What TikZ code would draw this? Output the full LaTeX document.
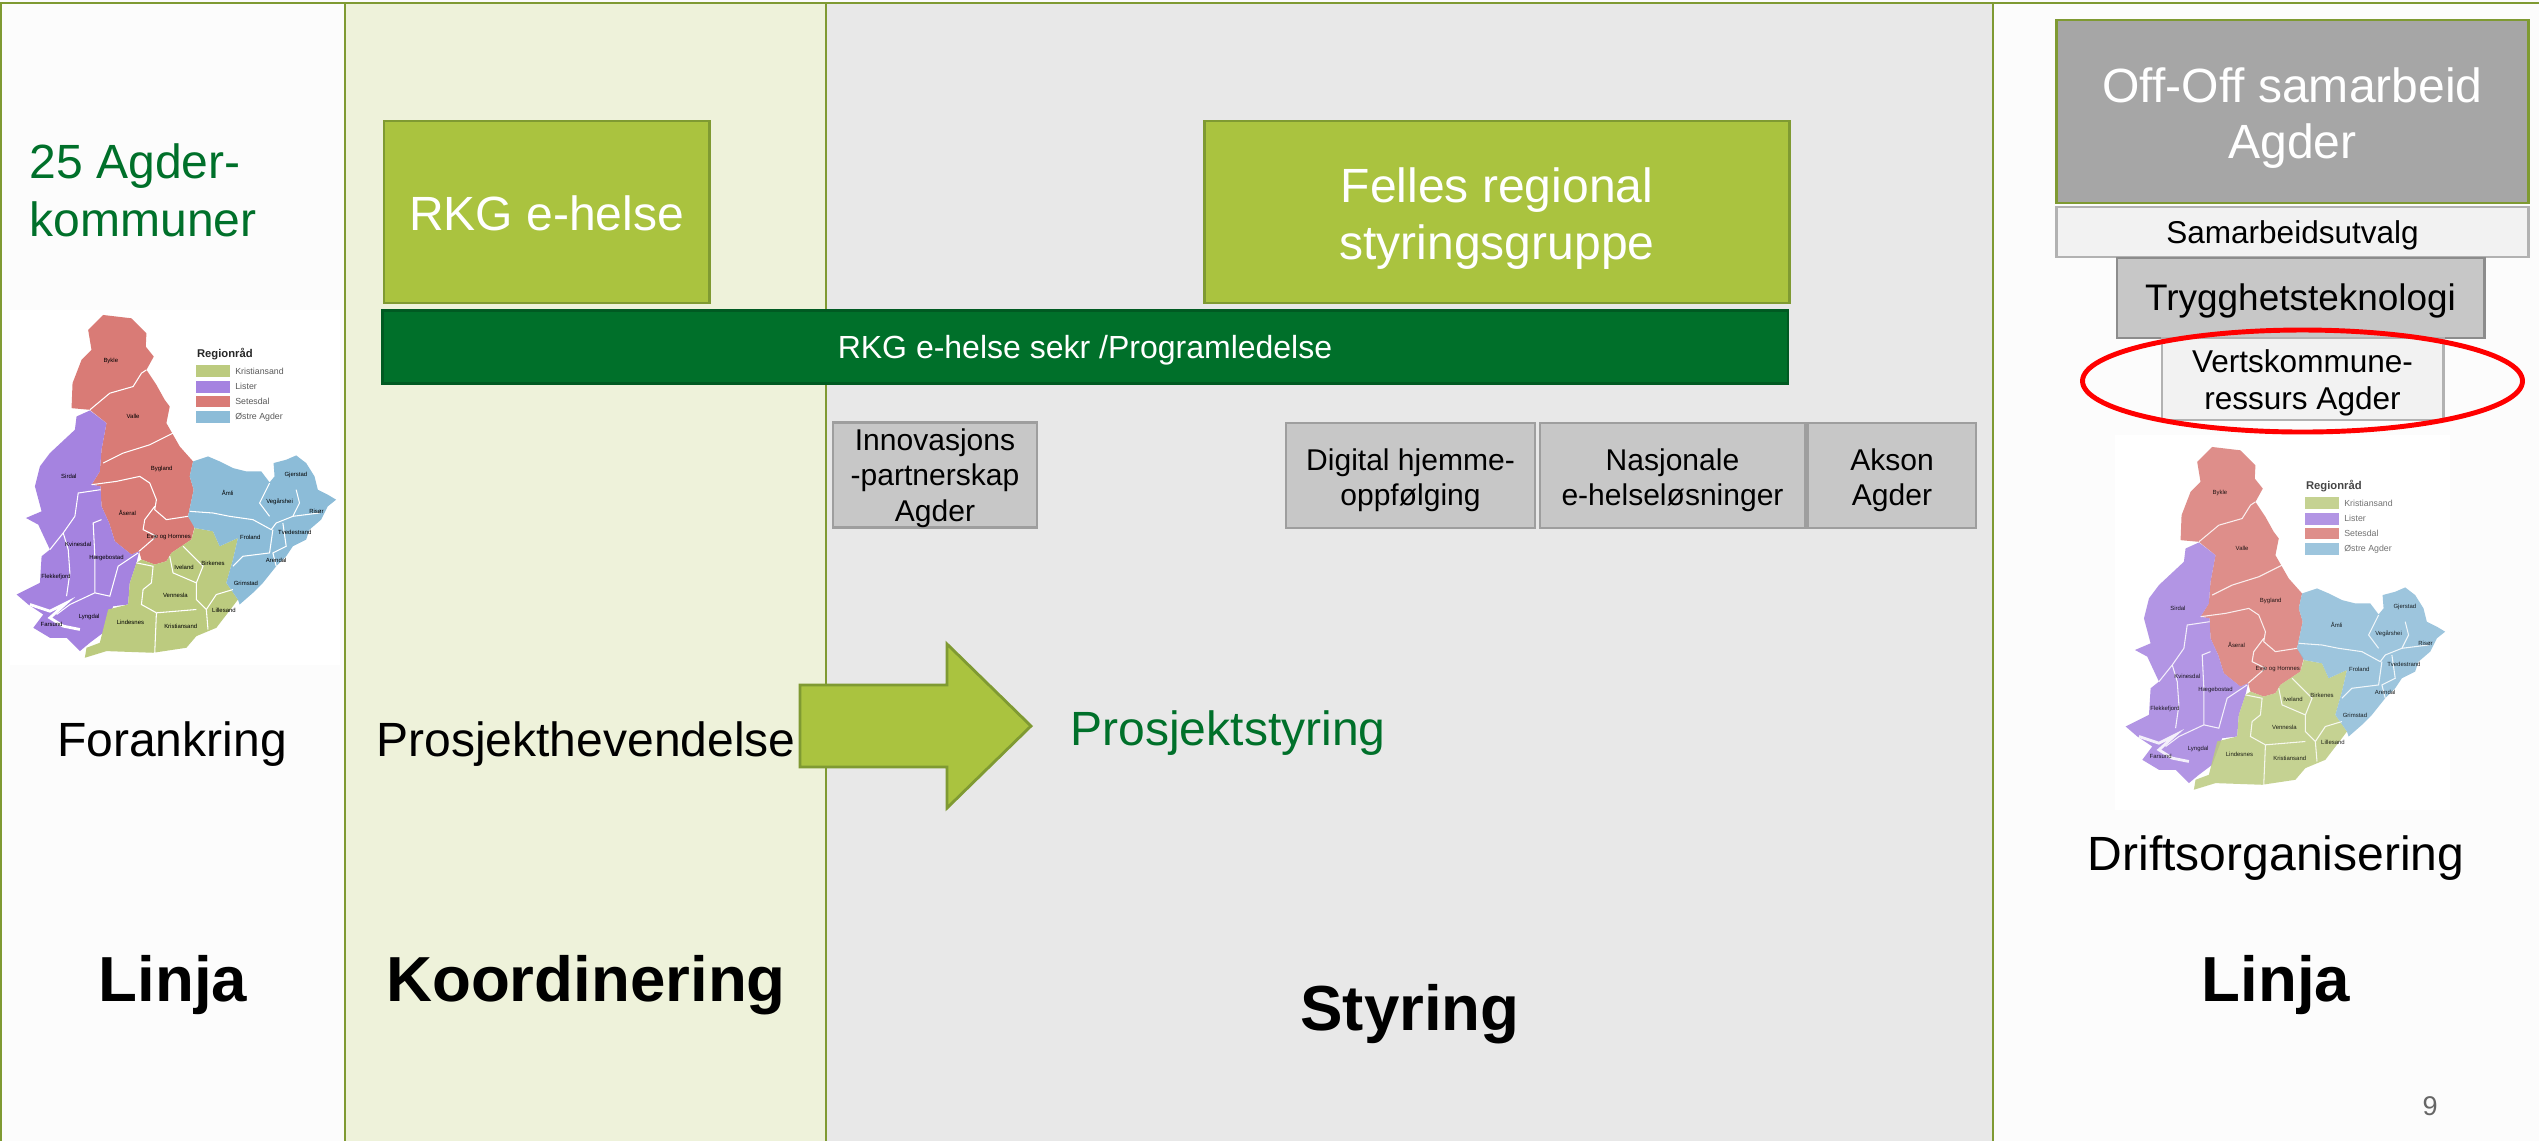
\documentclass[tikz,border=0pt]{standalone}
\usepackage{fontspec}
\setmainfont{Liberation Sans}
\usepackage{tikz}
\usetikzlibrary{calc,positioning}
\definecolor{olive}{HTML}{7F9A32}
\definecolor{leaf}{HTML}{AAC33F}
\definecolor{forest}{HTML}{00702A}
\definecolor{paleleaf}{HTML}{EEF2DA}
\definecolor{mapgreen}{HTML}{BCCB7F}
\definecolor{mappurple}{HTML}{A583E0}
\definecolor{mapred}{HTML}{D97B76}
\definecolor{mapblue}{HTML}{8CBCD8}
\newcommand{\fsize}[2]{\fontsize{#1}{#2}\selectfont}
\newcommand{\lifted}[1]{\rule{0pt}{#1}}
\newcommand{\agdermap}[3]{%
  \begin{scope}[shift={(#1,#2)},x=0.00333cm,y=-0.00333cm,opacity=#3]
    \fill[mapred] (310,75) -- (395,85) -- (440,130) -- (438,170) -- (462,200) -- (440,240) -- (470,285) -- (495,330) -- (510,350) -- (500,400) -- (540,470) -- (580,515) -- (570,560) -- (582,600) -- (565,680) -- (585,710) -- (575,750) -- (515,790) -- (500,815) -- (465,825) -- (425,810) -- (418,785) -- (395,795) -- (345,755) -- (328,700) -- (305,650) -- (302,590) -- (275,585) -- (300,545) -- (305,480) -- (320,400) -- (270,360) -- (215,355) -- (218,280) -- (245,210) -- (275,180) -- (265,120) -- cycle;
    \fill[mappurple] (270,362) -- (320,400) -- (305,480) -- (300,545) -- (275,585) -- (302,590) -- (305,650) -- (328,700) -- (345,755) -- (395,795) -- (418,785) -- (410,820) -- (390,880) -- (385,945) -- (340,950) -- (310,1030) -- (270,1060) -- (240,1085) -- (200,1045) -- (150,1045) -- (100,1015) -- (130,975) -- (85,945) -- (50,915) -- (120,880) -- (125,800) -- (150,780) -- (115,705) -- (78,685) -- (125,665) -- (105,590) -- (120,530) -- (150,490) -- (225,420) -- (230,380) -- cycle;
    \fill[mapgreen] (585,715) -- (640,725) -- (660,770) -- (715,745) -- (700,810) -- (680,880) -- (715,930) -- (700,950) -- (650,1015) -- (590,1040) -- (560,1075) -- (460,1090) -- (320,1085) -- (255,1105) -- (260,1075) -- (300,1060) -- (325,960) -- (385,945) -- (390,880) -- (410,820) -- (425,810) -- (465,825) -- (500,815) -- (515,790) -- (575,750) -- cycle;
    \fill[mapblue] (580,515) -- (610,505) -- (625,500) -- (660,515) -- (700,535) -- (740,545) -- (785,545) -- (810,578) -- (825,560) -- (822,520) -- (860,510) -- (890,497) -- (920,520) -- (945,560) -- (955,600) -- (985,615) -- (1010,630) -- (985,650) -- (965,690) -- (930,720) -- (920,750) -- (880,770) -- (860,800) -- (830,830) -- (790,880) -- (760,910) -- (720,945) -- (715,930) -- (680,880) -- (700,810) -- (715,745) -- (660,770) -- (640,725) -- (585,715) -- (565,680) -- (582,600) -- (570,560) -- cycle;
    % borders
    \draw[white, line width=0.3pt] (270,360) -- (330,310) -- (400,290) -- (425,250) -- (440,240)
      (310,520) -- (370,490) -- (450,465) -- (520,430)
      (275,585) -- (350,575) -- (420,560) -- (450,580) -- (470,630) -- (465,660) -- (500,690) -- (565,680)
      (465,650) -- (435,690) -- (430,720) -- (470,740) -- (418,785)
      (302,600) -- (235,610) -- (225,680) -- (190,730) -- (150,780)
      (190,730) -- (205,780) -- (210,850) -- (200,920)
      (305,690) -- (280,700) -- (285,800) -- (285,910) -- (330,920) -- (355,830) -- (415,790)
      (285,910) -- (210,945) -- (170,975)
      (410,820) -- (460,830) -- (455,880) -- (430,900) -- (425,945) -- (470,970) -- (465,1090)
      (510,800) -- (520,850) -- (590,880) -- (590,930) -- (620,960) -- (625,1020)
      (550,770) -- (610,830) -- (590,880)
      (470,970) -- (590,960)
      (700,900) -- (650,915) -- (620,960)
      (570,665) -- (640,670) -- (690,680) -- (760,690) -- (815,720) -- (830,700) -- (880,680) -- (960,670)
      (810,580) -- (780,640) -- (810,680)
      (890,600) -- (900,640) -- (880,680)
      (820,720) -- (810,790) -- (730,800) -- (700,830)
      (850,700) -- (860,770) -- (820,790) -- (830,830);
    \draw[white, line width=0.8pt] (90,945) -- (150,965) -- (200,940) -- (150,985) -- (190,1010) -- (240,1020);
    % municipalities
    \foreach \mapx/\mapy/\mapname in {333/212/Bykle, 400/381/Valle, 486/538/Bygland, 207/560/Sirdal, 383/669/Åseral, 507/743/Evje og Hornnes, 235/765/Kvinesdal, 320/805/Hægebostad, 168/862/Flekkefjord, 155/1005/Farsund, 268/982/Lyngdal, 392/999/Lindesnes, 543/1010/Kristiansand, 527/918/Vennesla, 553/833/Iveland, 640/822/Birkenes, 673/963/Lillesand, 739/880/Grimstad, 830/812/Arendal, 752/744/Froland, 886/727/Tvedestrand, 951/666/Risør, 840/637/Vegårshei, 889/557/Gjerstad, 684/609/Åmli}
      \node[font=\fsize{1.7}{2}] at (\mapx,\mapy) {\mapname};
    % legend
    \node[anchor=west, inner sep=0pt, font=\fsize{3.2}{4}\bfseries, text=black!85] at (590,193) {Regionråd};
    \foreach \mapy/\mapcol/\mapname in {243/mapgreen/Kristiansand, 290/mappurple/Lister, 335/mapred/Setesdal, 382/mapblue/Østre Agder} {
      \fill[\mapcol] (590,\mapy-18) rectangle (690,\mapy+18);
      \node[anchor=west, font=\fsize{2.5}{3}, text=black!65, inner sep=0pt] at (705,\mapy) {\mapname};
    }
  \end{scope}%
}
\begin{document}
\begin{tikzpicture}[x=0.01cm,y=-0.01cm]
      \tikzstyle{greenbox} = [draw=olive, fill=leaf, line width=0.8pt, text=white, align=center, inner sep=0pt, font=\fsize{13.66}{16}]
      \tikzstyle{greybox} = [draw=black!38, fill=black!22, line width=0.8pt, align=center, inner sep=0pt, font=\fsize{8.54}{10}]
      \tikzstyle{lightbox} = [draw=black!30, fill=black!5, line width=0.8pt, align=center, inner sep=0pt, font=\fsize{8.97}{10.5}]
      \tikzstyle{sidetext} = [inner sep=0pt, align=center, font=\fsize{13.66}{16.5}]
      \tikzstyle{headtext} = [inner sep=0pt, font=\fsize{18.1}{20}\bfseries]
      \useasboundingbox (0,0) rectangle (2539,1141);

      % panels
      \fill[black!1] (0,0) rectangle (2539,1141);
      \fill[white] (10,310) rectangle (340,665);
      \fill[white] (2115,435) rectangle (2450,810);
      \fill[paleleaf] (345,3) rectangle (826,1141);
      \fill[black!9] (826,3) rectangle (1993,1141);
      \draw[olive, line width=0.8pt] (0,3) -- (2539,3);
      \draw[olive, line width=0.8pt] (1,3) -- (1,1141) (345,3) -- (345,1141) (826,3) -- (826,1141) (1993,3) -- (1993,1141);

      \agdermap{0}{290}{1}
      \agdermap{2109}{422}{0.85}

      \node[greenbox, minimum width=3.25cm, minimum height=1.82cm] (rkg) at (546.5,212) {\lifted{10.6pt}RKG e-helse};
      \node[greenbox, minimum width=5.85cm, minimum height=1.82cm] (felles) at (1497,212) {\lifted{13.7pt}Felles regional\\styringsgruppe};
      \node[draw=forest!80!black, fill=forest, line width=0.8pt, text=white, inner sep=0pt, minimum width=14.05cm, minimum height=0.73cm, font=\fsize{9.1}{11}] (sekr) at (1085,347) {\lifted{8.35pt}RKG e-helse sekr /Programledelse};

      \node[greybox, minimum width=2.04cm, minimum height=1.05cm] (innov) at (935,475) {Innovasjons\\-partnerskap\\\smash{Agder}};
      \node[greybox, minimum width=2.49cm, minimum height=1.05cm] (digital) at (1410.5,475.5) {\lifted{8.8pt}Digital hjemme-\\oppfølging};
      \node[greybox, minimum width=2.65cm, minimum height=1.05cm] (nasjonale) at (1672.5,475.5) {\lifted{8.8pt}Nasjonale\\e-helseløsninger};
      \node[greybox, minimum width=1.68cm, minimum height=1.05cm] (akson) at (1892,475.5) {\lifted{8.8pt}Akson\\Agder};

      \node[greenbox, draw=olive, fill=black!35, minimum width=4.71cm, minimum height=1.83cm] (offoff) at (2292.5,111.5) {\lifted{13.7pt}Off-Off samarbeid\\Agder};
      \node[lightbox, minimum width=4.71cm, minimum height=0.5cm] (utvalg) at (2292.5,232) {\lifted{8.25pt}Samarbeidsutvalg};
      \node[greybox, draw=black!45, minimum width=3.67cm, minimum height=0.8cm, font=\fsize{10.5}{12}] (trygg) at (2300.5,298) {\lifted{9.36pt}Trygghetsteknologi};
      \node[lightbox, minimum width=2.81cm, minimum height=0.82cm] (verts) at (2302.5,379) {\lifted{8.8pt}Vertskommune-\\ressurs Agder};
      \draw[red, line width=1.4pt] (2302.5,381) ellipse [x radius=220, y radius=51];

      \draw[olive, fill=leaf, line width=0.8pt] (800,685) -- (947,685) -- (947,644) -- (1031,726) -- (947,808) -- (947,767) -- (800,767) -- cycle;

      \node[sidetext, anchor=west, align=left, text=forest] (agder) at (29,190) {25 Agder-\\kommuner};
      \node[sidetext] (forankring) at (172,744) {Forankring};
      \node[sidetext] (hevendelse) at (586,744) {Prosjekthevendelse};
      \node[sidetext, text=forest] (styringtxt) at (1228,733) {Prosjektstyring};
      \node[sidetext] (drift) at (2276,858) {Driftsorganisering};

      \node[headtext] (linjav) at (173,985) {Linja};
      \node[headtext] (koord) at (586,985) {Koordinering};
      \node[headtext] (styring) at (1410,1014) {Styring};
      \node[headtext] (linjah) at (2276,985) {Linja};
      \node[inner sep=0pt, text=black!60, font=\fsize{7.7}{9}] (sidetall) at (2430,1106) {9};
    \end{tikzpicture}
\end{document}
